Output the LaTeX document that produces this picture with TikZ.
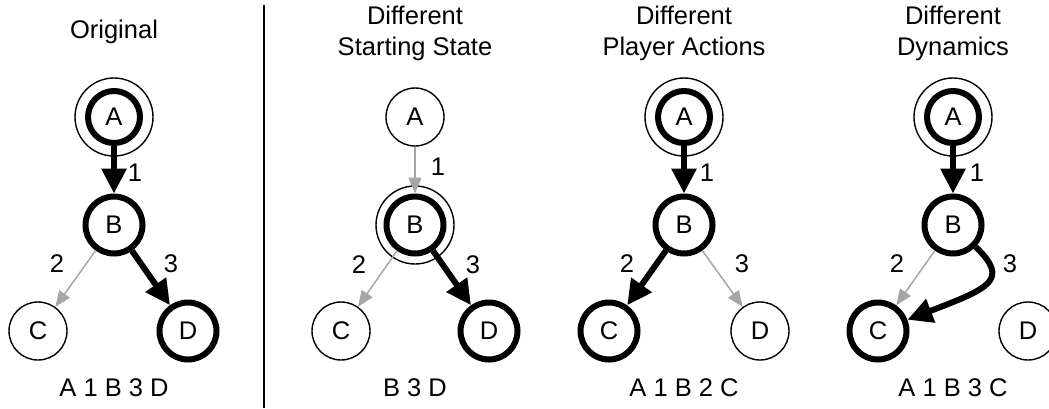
\documentclass[tikz,border=0pt]{standalone}
\usepackage{fontspec}
\setmainfont{Liberation Sans}
\usetikzlibrary{arrows.meta}
\begin{document}
\begin{tikzpicture}[x=1bp,y=-1bp,
  every node/.style={font=\fontsize{25.5bp}{31bp}\selectfont},
  state/.style={circle, draw, line width=1.4bp, minimum size=58bp, inner sep=0pt},
  visited/.style={state, line width=6bp, minimum size=57bp},
  startnode/.style={visited, minimum size=52bp},
  ring/.style={circle, draw, line width=1.4bp, minimum size=78bp, inner sep=0pt},
  lbl/.style={inner sep=0pt},
  title/.style={align=center, inner sep=0pt},
  hot/.style={line width=6bp, -{Triangle[width=24bp,length=25bp]}},
  cold/.style={draw=black!35, line width=1.5bp, -{Triangle[width=13bp,length=16bp]}},
  divider/.style={line width=2bp}
]
\useasboundingbox (0,0) rectangle (1049,408);

% ---------- Original ----------
\node[title] (t1) at (114,32) {Original};
\node[ring] (r1) at (114,117) {};
\node[startnode] (A1) at (114,117) {A};
\node[visited] (B1) at (114,225) {B};
\node[state] (C1) at (38,331) {C};
\node[visited] (D1) at (188,331) {D};
\draw[hot] (A1) -- (B1);
\draw[cold] (B1) -- (C1);
\draw[hot] (B1) -- (D1);
\node[lbl] (l11) at (135,173) {1};
\node[lbl] (l12) at (57,264) {2};
\node[lbl] (l13) at (171,264) {3};
\node[lbl] (s1) at (114,388) {A 1 B 3 D};

% separator
\coordinate (sepT) at (264,5);
\coordinate (sepB) at (264,408);
\draw[divider] (sepT) -- (sepB);

% ---------- Different starting state ----------
\node[title] (t2) at (415,33) {Different\\Starting State};
\node[state] (A2) at (415,117) {A};
\node[ring] (r2) at (415,225) {};
\node[visited] (B2) at (415,225) {B};
\node[state] (C2) at (341,331) {C};
\node[visited] (D2) at (489,331) {D};
\draw[cold] (A2) -- (B2);
\draw[cold] (B2) -- (C2);
\draw[hot] (B2) -- (D2);
\node[lbl] (l21) at (438,167) {1};
\node[lbl] (l22) at (359,265) {2};
\node[lbl] (l23) at (473,265) {3};
\node[lbl] (s2) at (415,388) {B 3 D};

% ---------- Different player actions ----------
\node[title] (t3) at (684,33) {Different\\Player Actions};
\node[ring] (r3) at (684,117) {};
\node[startnode] (A3) at (684,117) {A};
\node[visited] (B3) at (684,225) {B};
\node[visited] (C3) at (609,331) {C};
\node[state] (D3) at (760,331) {D};
\draw[hot] (A3) -- (B3);
\draw[hot] (B3) -- (C3);
\draw[cold] (B3) -- (D3);
\node[lbl] (l31) at (707,173) {1};
\node[lbl] (l32) at (627,264) {2};
\node[lbl] (l33) at (742,264) {3};
\node[lbl] (s3) at (684,388) {A 1 B 2 C};

% ---------- Different dynamics ----------
\node[title] (t4) at (953,33) {Different\\Dynamics};
\node[ring] (r4) at (953,117) {};
\node[startnode] (A4) at (953,117) {A};
\node[visited] (B4) at (953,225) {B};
\node[visited] (C4) at (878,331) {C};
\node[state] (D4) at (1028,331) {D};
\draw[hot] (A4) -- (B4);
\draw[cold] (B4) -- (C4);
\draw[hot] (B4) .. controls (1010,280) and (990,288) .. (C4);
\node[lbl] (l41) at (977,173) {1};
\node[lbl] (l42) at (897,264) {2};
\node[lbl] (l43) at (1010,264) {3};
\node[lbl] (s4) at (953,388) {A 1 B 3 C};
\end{tikzpicture}
\end{document}
